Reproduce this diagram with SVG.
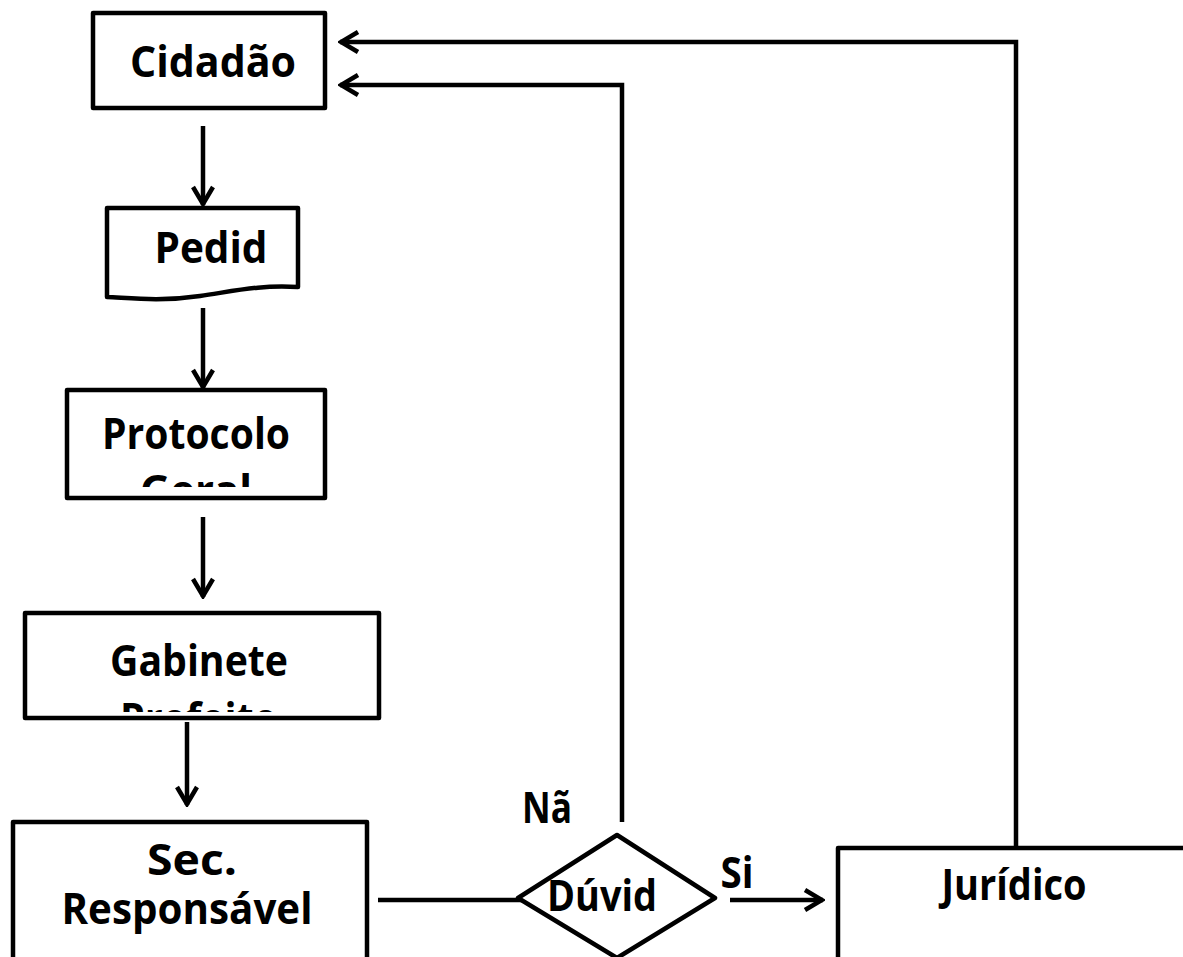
<svg xmlns="http://www.w3.org/2000/svg" width="1183" height="957" viewBox="0 0 1183 957">
<style>
.box{fill:#fff;stroke:#000;stroke-width:4.5;stroke-linejoin:round}
.ln{fill:none;stroke:#000;stroke-width:4.5}
.t{font-family:"Open Sans","Liberation Sans",sans-serif;font-weight:bold;font-size:43px;fill:#000;text-anchor:middle}
</style>
<defs>
<marker id="ah" viewBox="0 0 24 24" refX="22" refY="12" markerWidth="24" markerHeight="24" markerUnits="userSpaceOnUse" orient="auto">
<path d="M4 2 L21 12 L4 22" fill="none" stroke="#000" stroke-width="4.5"/>
</marker>
<clipPath id="cp1"><rect x="69" y="392" width="254" height="95"/></clipPath>
<clipPath id="cp2"><rect x="27" y="615" width="350" height="97"/></clipPath>
</defs>
<g id="connectors">
<line class="ln" x1="203" y1="126" x2="203" y2="205" marker-end="url(#ah)"/>
<line class="ln" x1="203" y1="308" x2="203" y2="388" marker-end="url(#ah)"/>
<line class="ln" x1="203" y1="517" x2="203" y2="597" marker-end="url(#ah)"/>
<line class="ln" x1="187" y1="722" x2="187" y2="805" marker-end="url(#ah)"/>
<line class="ln" x1="378" y1="900" x2="523" y2="900"/>
<line class="ln" x1="730" y1="900" x2="823" y2="900" marker-end="url(#ah)"/>
<polyline class="ln" points="622,822 622,85 340,85" marker-end="url(#ah)"/>
<polyline class="ln" points="1016,848 1016,42 340,42" marker-end="url(#ah)"/>
</g>
<g id="cidadao">
<rect class="box" x="93" y="13" width="232" height="95"/>
<text class="t" x="213" y="77" textLength="166" lengthAdjust="spacingAndGlyphs">Cidadão</text>
</g>
<g id="pedid">
<path class="box" d="M107 208 L298 208 L298 287 C260 285 240 290 200 296 C160 302 130 298 107 297 Z"/>
<text class="t" x="211" y="263" textLength="113" lengthAdjust="spacingAndGlyphs">Pedid</text>
</g>
<g id="protocolo">
<rect class="box" x="67" y="390" width="258" height="108"/>
<g clip-path="url(#cp1)">
<text class="t" x="196" y="449" textLength="188" lengthAdjust="spacingAndGlyphs">Protocolo</text>
<text class="t" x="196" y="506" textLength="112" lengthAdjust="spacingAndGlyphs">Geral</text>
</g>
</g>
<g id="gabinete">
<rect class="box" x="25" y="613" width="354" height="105"/>
<g clip-path="url(#cp2)">
<text class="t" x="199" y="676" textLength="178" lengthAdjust="spacingAndGlyphs">Gabinete</text>
<text class="t" x="199" y="734" textLength="158" lengthAdjust="spacingAndGlyphs">Prefeito</text>
</g>
</g>
<g id="sec">
<rect class="box" x="13" y="822" width="354" height="200"/>
<text class="t" x="192" y="875" textLength="90" lengthAdjust="spacingAndGlyphs">Sec.</text>
<text class="t" x="187" y="924" textLength="251" lengthAdjust="spacingAndGlyphs">Responsável</text>
</g>
<g id="duvida">
<polygon class="box" points="518,898 617,835 715,898 617,958"/>
<text class="t" x="602" y="911" textLength="110" lengthAdjust="spacingAndGlyphs">Dúvid</text>
</g>
<g id="juridico">
<rect class="box" x="838" y="848" width="400" height="200"/>
<text class="t" x="1014" y="900" textLength="145" lengthAdjust="spacingAndGlyphs">Jurídico</text>
</g>
<g id="labels">
<text class="t" x="547" y="823" textLength="50" lengthAdjust="spacingAndGlyphs">Nã</text>
<text class="t" x="737" y="888" textLength="33" lengthAdjust="spacingAndGlyphs">Si</text>
</g>
</svg>
